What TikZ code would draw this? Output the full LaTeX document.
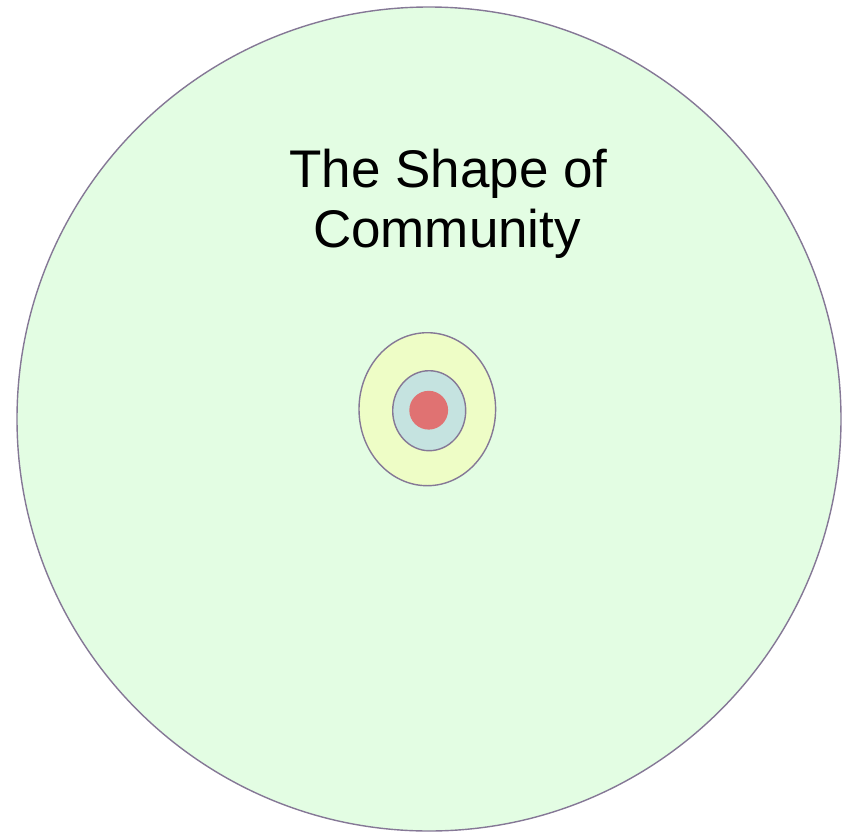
\documentclass[tikz,border=0pt]{standalone}
\usepackage{fontspec}
\setmainfont{Liberation Sans}
\definecolor{bggreen}{HTML}{E3FDE3}
\definecolor{ringyellow}{HTML}{EEFDC6}
\definecolor{ringblue}{HTML}{C5E3E0}
\definecolor{corered}{HTML}{E07272}
\definecolor{edgegray}{HTML}{857896}
\begin{document}
\begin{tikzpicture}[x=1pt,y=-1pt,
  ring/.style={draw=edgegray,line width=1.4pt},
  titletext/.style={font=\fontsize{53}{60}\selectfont,inner sep=0pt,anchor=base}]
\useasboundingbox (0,0) rectangle (846,833);
\node[ring,fill=bggreen,circle,minimum size=824pt,inner sep=0pt] (world) at (429,419) {};
\path[ring,fill=ringyellow] (427.3,409.2) ellipse [x radius=68.3, y radius=76.5];
\path[ring,fill=ringblue] (429.2,410.7) ellipse [x radius=36.5, y radius=40];
\fill[corered] (428.7,410.2) circle [radius=19.4];
\node[titletext] (title1) at (448.5,187) {The Shape of};
\node[titletext] (title2) at (447,247) {Community};
\end{tikzpicture}
\end{document}
